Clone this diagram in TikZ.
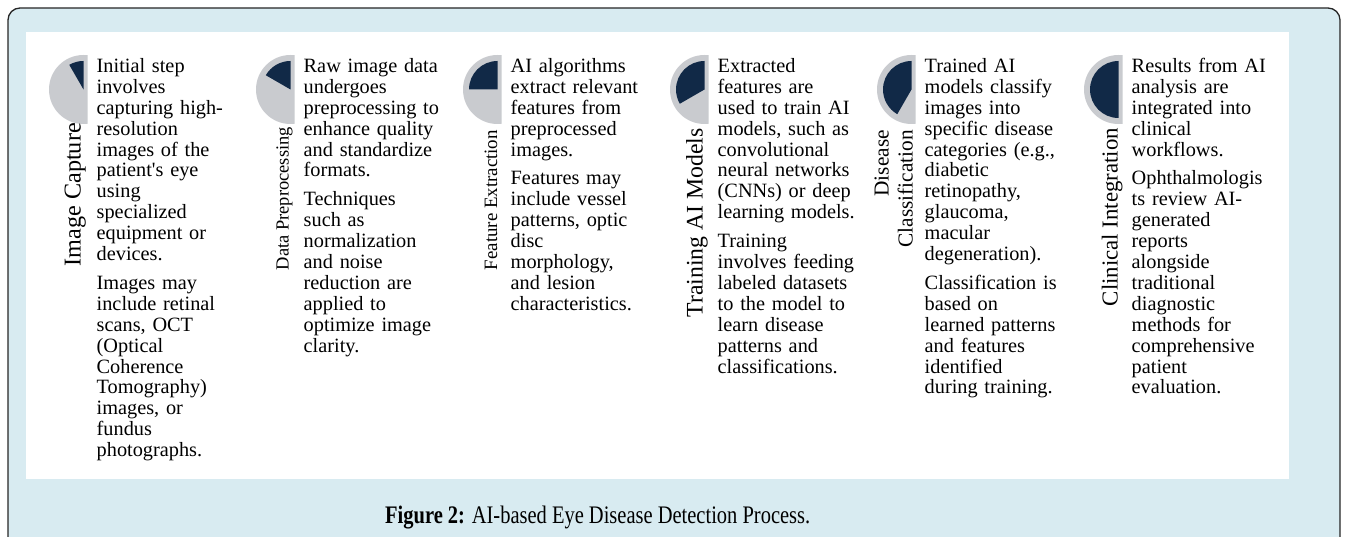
\documentclass[tikz,border=0pt]{standalone}
\usepackage{fontspec}
\usepackage{graphicx}
\newfontfamily\bodyfont{Liberation Serif}
\newfontfamily\capfont{Liberation Serif}
\definecolor{panelblue}{HTML}{D8EBF1}
\definecolor{ringgrey}{HTML}{C9CBCF}
\definecolor{navy}{HTML}{112947}

% progress pie: grey half disc with a navy sector growing from 12 o'clock
\newcommand\stagepie[2]{%
  \begin{scope}
    \clip (#1-40,40) rectangle (#1+4,140);
    \fill[ringgrey] (#1,89.5) circle (34.5);
  \end{scope}
  \fill[navy] (#1,89.5) -- ++(-90:28.5) arc[start angle=-90, end angle={-90-#2}, radius=28.5] -- cycle;
}

\begin{document}
\begin{tikzpicture}[x=1pt,y=-1pt,
  desc/.style={anchor=base west, inner sep=0pt, text width=160pt, align=left,
    font=\bodyfont\fontsize{20.3}{20.9}\selectfont},
  vlabel/.style={rotate=90, anchor=base east, inner sep=0pt,
    font=\bodyfont\fontsize{20}{24}\selectfont},
  caption/.style={anchor=base west, inner sep=0pt}
]
\useasboundingbox (0,0) rectangle (1348,537);
\clip (0,0) rectangle (1348,537);

% frame and white panel
\draw[fill=panelblue, draw=black!85, line width=1.3pt, rounded corners=12pt] (8,8) rectangle (1340,600);
\fill[white] (26,32) rectangle (1289,479);

% pies
\stagepie{83.5}{30}
\stagepie{290.5}{60}
\stagepie{497.5}{90}
\stagepie{704.5}{120}
\stagepie{911.5}{150}
\stagepie{1118.5}{180}

% stage titles
\node[vlabel] (t1) at (80.5,123) {\resizebox{143pt}{!}{Image Capture}};
\node[vlabel] (t2) at (288.5,127) {\resizebox{143pt}{!}{Data Preprocessing}};
\node[vlabel] (t3) at (497,130) {\resizebox{140pt}{!}{Feature Extraction}};
\node[vlabel] (t4) at (702.5,128) {\resizebox{189pt}{!}{Training AI Models}};
\node[vlabel, font=\bodyfont\fontsize{21.3}{24}\selectfont] (t5a) at (888.5,130) {Disease};
\node[vlabel, font=\bodyfont\fontsize{21.3}{24}\selectfont] (t5b) at (912.5,130) {Classification};
\node[vlabel] (t6) at (1117.5,128) {\resizebox{178pt}{!}{Clinical Integration}};

% stage descriptions
\node[desc] (d1) at (96.5,72.5) {Initial step\\involves\\capturing high-\\resolution\\images of the\\patient's eye\\using\\specialized\\equipment or\\devices.\\[8pt]
Images may\\include retinal\\scans, OCT\\(Optical\\Coherence\\Tomography)\\images, or\\fundus\\photographs.};

\node[desc] (d2) at (303.5,72.5) {Raw image data\\undergoes\\preprocessing to\\enhance quality\\and standardize\\formats.\\[8pt]
Techniques\\such as\\normalization\\and noise\\reduction are\\applied to\\optimize image\\clarity.};

\node[desc] (d3) at (510.5,72.5) {AI algorithms\\extract relevant\\features from\\preprocessed\\images.\\[8pt]
Features may\\include vessel\\patterns, optic\\disc\\morphology,\\and lesion\\characteristics.};

\node[desc] (d4) at (717.5,72.5) {Extracted\\features are\\used to train AI\\models, such as\\convolutional\\neural networks\\(CNNs) or deep\\learning models.\\[8pt]
Training\\involves feeding\\labeled datasets\\to the model to\\learn disease\\patterns and\\classifications.};

\node[desc] (d5) at (924.5,72.5) {Trained AI\\models classify\\images into\\specific disease\\categories (e.g.,\\diabetic\\retinopathy,\\glaucoma,\\macular\\degeneration).\\[8pt]
Classification is\\based on\\learned patterns\\and features\\identified\\during training.};

\node[desc] (d6) at (1131.5,72.5) {Results from AI\\analysis are\\integrated into\\clinical\\workflows.\\[8pt]
Ophthalmologis\\ts review AI-\\generated\\reports\\alongside\\traditional\\diagnostic\\methods for\\comprehensive\\patient\\evaluation.};

% caption
\node[caption] (cap) at (385,523) {\resizebox{425pt}{17.5pt}{\capfont\textbf{Figure 2:} AI-based Eye Disease Detection Process.}};
\end{tikzpicture}
\end{document}
